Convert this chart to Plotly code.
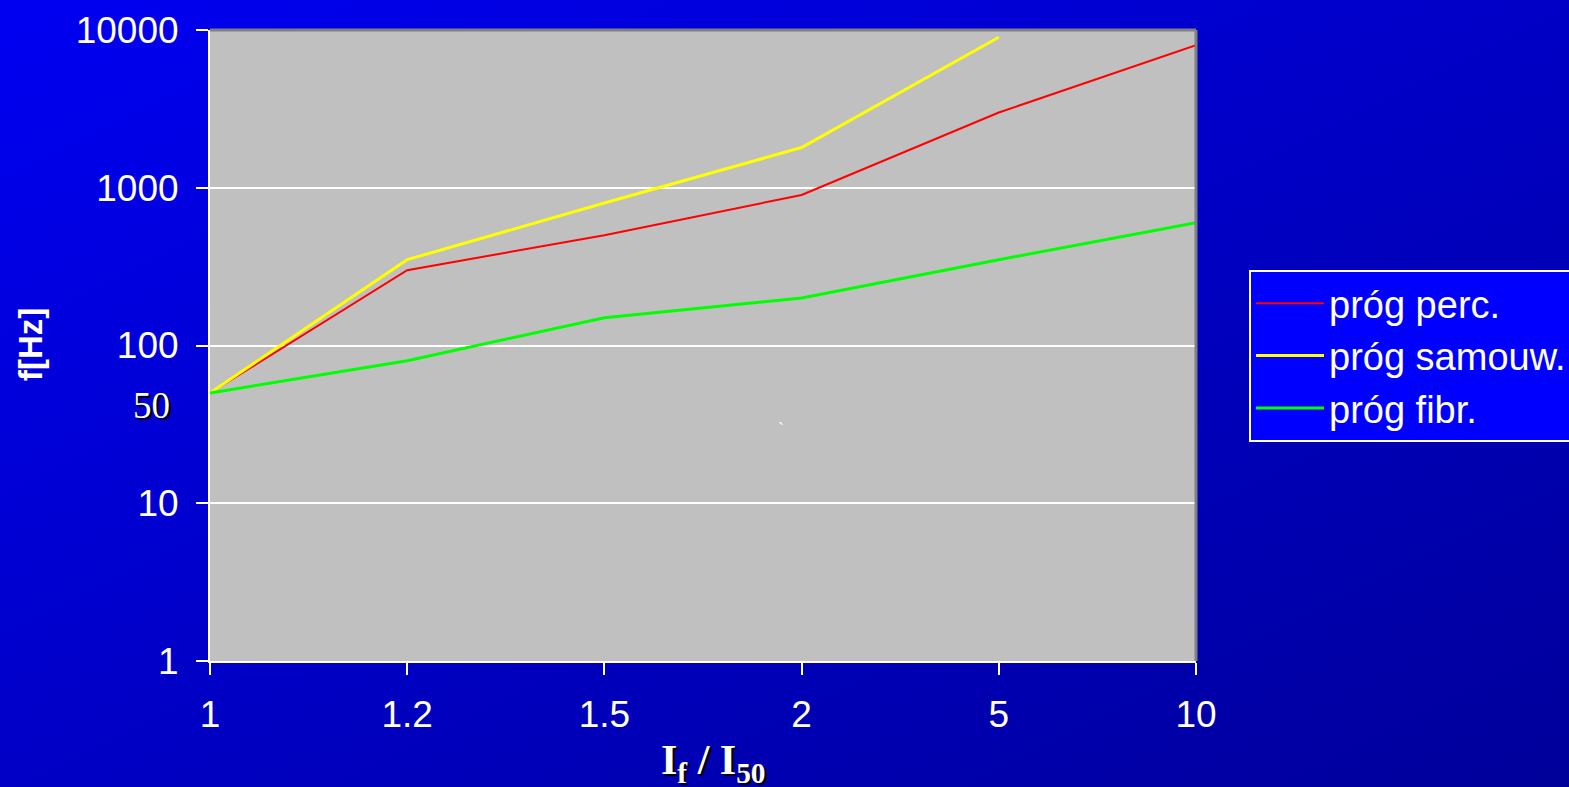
import plotly.graph_objects as go

categories = ["1", "1.2", "1.5", "2", "5", "10"]
prog_perc = [50, 300, 500, 900, 3000, 8000]
prog_samouw = [50, 350, 800, 1800, 9000, None]
prog_fibr = [50, 80, 150, 200, 350, 600]
y_ticks = [1, 10, 100, 1000, 10000]
y_ticktext = ["1", "10", "100", "1000", "10000"]

W, H = 1569, 787
L, R, T, B = 210, 373, 30, 126
pw, ph = W - L - R, H - T - B

svg = ("data:image/svg+xml;utf8,<svg xmlns='http://www.w3.org/2000/svg' width='1569' height='787'>"
       "<defs><linearGradient id='g' x1='0' y1='0' x2='1' y2='1'>"
       "<stop offset='0' stop-color='%230000F2'/><stop offset='1' stop-color='%2300009A'/>"
       "</linearGradient></defs><rect width='1569' height='787' fill='url(%23g)'/></svg>")

fig = go.Figure()
fig.add_trace(go.Scatter(x=categories, y=prog_perc, mode="lines", name="próg perc.",
                         line=dict(color="#FF0000", width=2), cliponaxis=False))
fig.add_trace(go.Scatter(x=categories, y=prog_samouw, mode="lines", name="próg samouw.",
                         line=dict(color="#FFFF00", width=3), cliponaxis=False))
fig.add_trace(go.Scatter(x=categories, y=prog_fibr, mode="lines", name="próg fibr.",
                         line=dict(color="#00FF00", width=3), cliponaxis=False))

tickfont = dict(family="Liberation Sans, Arial", size=37, color="white")

fig.update_layout(
    width=W, height=H,
    margin=dict(l=L, r=R, t=T, b=B, autoexpand=False),
    paper_bgcolor="#0000C8",
    plot_bgcolor="#C0C0C0",
    images=[dict(source=svg, xref="paper", yref="paper", x=-L / pw, y=1 + T / ph,
                 sizex=W / pw, sizey=H / ph, sizing="stretch", layer="below",
                 xanchor="left", yanchor="top")],
    shapes=[
        dict(type="rect", xref="paper", yref="paper", x0=0, x1=1, y0=0, y1=1,
             fillcolor="#C0C0C0", line=dict(width=0), layer="below"),
        dict(type="line", xref="paper", yref="paper", x0=0, x1=1, y0=1, y1=1,
             line=dict(color="#808080", width=3), layer="above"),
        dict(type="line", xref="paper", yref="paper", x0=1, x1=1, y0=0, y1=1,
             line=dict(color="#808080", width=3), layer="above"),
    ],
    showlegend=True,
    legend=dict(x=(1249 - L) / pw, xanchor="left", y=(661 - 270) / ph, yanchor="top",
                bgcolor="#0000FF", bordercolor="white", borderwidth=2,
                font=dict(family="Liberation Sans, Arial", size=38, color="white"),
                itemwidth=68, tracegroupgap=0),
    xaxis=dict(type="category", range=[0, 5], showgrid=False, showline=True,
               linecolor="white", linewidth=2, ticks="outside", tickcolor="white",
               ticklen=12, tickwidth=2, tickfont=tickfont, ticklabelstandoff=8),
    yaxis=dict(type="log", range=[0, 4], tickvals=y_ticks, ticktext=y_ticktext,
               showgrid=True, gridcolor="white", gridwidth=1.5, showline=True,
               linecolor="white", linewidth=2, ticks="outside", tickcolor="white",
               ticklen=12, tickwidth=2, tickfont=tickfont, ticklabelstandoff=10),
    annotations=[
        dict(text="<b>I<sub>f</sub> / I<sub>50</sub></b>", xref="paper", yref="paper",
             x=(713 - L) / pw, y=-(763 - 661) / ph, xanchor="center", yanchor="middle",
             showarrow=False,
             font=dict(family="Liberation Serif, Times New Roman", size=42, color="white",
                       shadow="2px 2px 1px black")),
        dict(text="<b>f[Hz]</b>", xref="paper", yref="paper", textangle=-90,
             x=-(L - 30) / pw, y=(661 - 345) / ph, xanchor="center", yanchor="middle",
             showarrow=False,
             font=dict(family="Liberation Sans, Arial", size=33, color="white")),
        dict(text="50", xref="paper", yref="paper",
             x=-(L - 151) / pw, y=(661 - 406) / ph, xanchor="center", yanchor="middle",
             showarrow=False,
             font=dict(family="Liberation Serif, Times New Roman", size=37, color="white",
                       shadow="2px 2px 1px black")),
        dict(text="`", xref="paper", yref="paper",
             x=(781 - L) / pw, y=(661 - 430) / ph, xanchor="center", yanchor="middle",
             showarrow=False,
             font=dict(family="Liberation Sans, Arial", size=18, color="white")),
    ],
)

fig.write_html("out.html", config={"displayModeBar": False},
               post_script="document.body.style.margin='0';")
